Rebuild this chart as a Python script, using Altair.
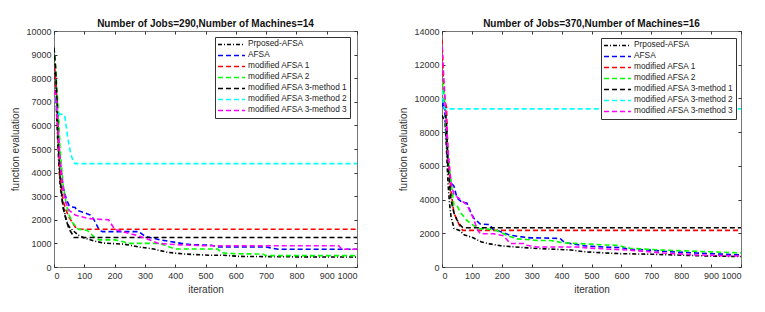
import altair as alt
import pandas as pd

FONT = "Liberation Sans"

SERIES = ["Prposed-AFSA", "AFSA", "modified AFSA 1", "modified AFSA 2",
          "modified AFSA 3-method 1", "modified AFSA 3-method 2", "modified AFSA 3-method 3"]
COLORS = ["#000000", "#0000ff", "#ff0000", "#00ff00", "#000000", "#00ffff", "#ff00ff"]
DASHES = [[4, 2, 1, 2], [5, 3], [5, 3], [5, 3], [5, 3], [5, 3], [5, 3]]

X_TICKS = list(range(0, 1001, 100))
Y_TICKS_LEFT = list(range(0, 10001, 1000))
Y_TICKS_RIGHT = list(range(0, 14001, 2000))

TITLE_LEFT = "Number of Jobs=290,Number of Machines=14"
TITLE_RIGHT = "Number of Jobs=370,Number of Machines=16"

# ---------------- left panel (290 jobs, 14 machines) ----------------
L_PROP_IT = [0, 5, 10, 15, 20, 25, 30, 40, 50, 65, 80, 100, 130, 165, 230, 285, 330, 375, 430, 510, 560, 610, 700, 800, 1000]
L_PROP_VAL = [9000, 7800, 6000, 4600, 3500, 3000, 2600, 2000, 1700, 1520, 1350, 1230, 1110, 1010, 970, 840, 760, 620, 550, 500, 500, 450, 440, 430, 420]

L_AFSA_IT = [0, 5, 10, 15, 20, 30, 40, 50, 55, 70, 75, 100, 120, 130, 150, 160, 280, 300, 350, 420, 450, 520, 540, 700, 740, 1000]
L_AFSA_VAL = [8500, 8000, 7000, 5500, 4500, 3400, 2900, 2600, 2550, 2520, 2400, 2300, 2200, 2050, 1550, 1500, 1500, 1300, 1150, 1000, 950, 920, 850, 850, 750, 750]

L_M1_IT = [0, 5, 10, 15, 20, 30, 40, 50, 60, 70, 80, 1000]
L_M1_VAL = [8500, 8000, 6500, 5000, 4000, 2800, 2400, 2100, 1900, 1700, 1600, 1600]

L_M2_IT = [0, 5, 10, 15, 20, 30, 40, 50, 60, 80, 110, 130, 150, 200, 220, 250, 350, 370, 400, 540, 555, 600, 690, 700, 1000]
L_M2_VAL = [9300, 8500, 7500, 6500, 5000, 3500, 2700, 2200, 1900, 1600, 1550, 1300, 1150, 1150, 1100, 1000, 1000, 900, 760, 760, 600, 560, 550, 480, 480]

L_M31_IT = [0, 5, 10, 15, 20, 30, 40, 50, 60, 66, 1000]
L_M31_VAL = [9300, 8500, 7000, 5000, 3800, 2500, 2000, 1600, 1400, 1250, 1250]

L_M32_IT = [0, 5, 12, 35, 45, 55, 65, 70, 1000]
L_M32_VAL = [7500, 7000, 6500, 6450, 5500, 4800, 4420, 4380, 4380]

L_M33_IT = [0, 5, 10, 15, 20, 30, 40, 50, 70, 115, 180, 200, 240, 270, 310, 345, 400, 500, 940, 950, 1000]
L_M33_VAL = [7500, 7200, 6500, 5500, 4500, 3300, 2700, 2400, 2200, 2050, 2000, 1600, 1450, 1350, 1180, 1000, 950, 900, 900, 750, 750]

# ---------------- right panel (370 jobs, 16 machines) ----------------
R_PROP_IT = [0, 5, 10, 15, 20, 25, 30, 40, 60, 75, 100, 130, 160, 200, 260, 320, 430, 480, 540, 600, 700, 800, 900, 1000]
R_PROP_VAL = [9000, 8800, 8700, 7000, 5000, 3800, 3000, 2300, 2150, 1900, 1770, 1500, 1370, 1250, 1170, 1100, 1010, 900, 840, 790, 760, 700, 650, 620]

R_AFSA_IT = [0, 5, 10, 15, 20, 30, 40, 50, 67, 83, 95, 106, 128, 160, 170, 195, 225, 262, 295, 340, 395, 410, 450, 480, 560, 600, 630, 700, 740, 850, 1000]
R_AFSA_VAL = [9500, 9800, 9000, 7500, 6000, 5000, 4800, 4100, 3830, 3800, 3300, 2900, 2550, 2520, 2250, 2100, 1900, 1800, 1730, 1720, 1690, 1450, 1330, 1250, 1170, 1150, 1050, 1000, 930, 830, 715]

R_M1_IT = [0, 5, 10, 15, 20, 30, 40, 50, 60, 70, 1000]
R_M1_VAL = [13500, 11000, 9800, 9500, 6500, 4500, 3200, 2800, 2400, 2170, 2170]

R_M2_IT = [0, 5, 10, 15, 20, 28, 40, 50, 61, 83, 106, 128, 150, 184, 217, 251, 284, 318, 363, 407, 485, 541, 585, 629, 741, 853, 1000]
R_M2_VAL = [11000, 10500, 9500, 8000, 6500, 5400, 3650, 3650, 3250, 2760, 2460, 2260, 2260, 2160, 1870, 1670, 1630, 1570, 1570, 1430, 1370, 1310, 1290, 1110, 1000, 930, 834]

R_M31_IT = [0, 5, 10, 15, 20, 30, 40, 50, 60, 70, 1000]
R_M31_VAL = [10000, 9800, 9500, 8500, 6000, 4000, 3200, 2800, 2500, 2330, 2330]

R_M32_IT = [0, 5, 10, 1000]
R_M32_VAL = [10500, 9600, 9380, 9380]

R_M33_IT = [0, 5, 10, 15, 20, 30, 40, 83, 105, 117, 128, 173, 206, 228, 273, 284, 317, 451, 495, 629, 741, 853, 1000]
R_M33_VAL = [13100, 11500, 10000, 8500, 7000, 5000, 4300, 3700, 2880, 2280, 1970, 1970, 1850, 1390, 1390, 1290, 1190, 1190, 1120, 1000, 830, 715, 650]


def build_df(pairs):
    rows = []
    for name, (its, vals) in zip(SERIES, pairs):
        for i, (a, b) in enumerate(zip(its, vals)):
            rows.append({"it": a, "val": b, "series": name, "idx": i})
    return pd.DataFrame(rows)


left_df = build_df([(L_PROP_IT, L_PROP_VAL), (L_AFSA_IT, L_AFSA_VAL), (L_M1_IT, L_M1_VAL),
                    (L_M2_IT, L_M2_VAL), (L_M31_IT, L_M31_VAL), (L_M32_IT, L_M32_VAL),
                    (L_M33_IT, L_M33_VAL)])
right_df = build_df([(R_PROP_IT, R_PROP_VAL), (R_AFSA_IT, R_AFSA_VAL), (R_M1_IT, R_M1_VAL),
                     (R_M2_IT, R_M2_VAL), (R_M31_IT, R_M31_VAL), (R_M32_IT, R_M32_VAL),
                     (R_M33_IT, R_M33_VAL)])


def panel(df, title, yticks, lx, ly, w, h):
    legend = alt.Legend(orient="none", legendX=lx, legendY=ly, symbolType="stroke",
                        symbolSize=729, symbolStrokeWidth=1.5, labelFontSize=8.3,
                        labelFont=FONT, labelColor="#222", strokeColor="#333",
                        fillColor="white", padding=2, clipHeight=10.9, labelOffset=2,
                        rowPadding=0, title=None, labelLimit=200)
    xscale = alt.Scale(domain=[0, 1000], nice=False, zero=False)
    yscale = alt.Scale(domain=[yticks[0], yticks[-1]], nice=False)
    lines = alt.Chart(df).mark_line(strokeWidth=1.6, clip=True).encode(
        x=alt.X("it:Q", scale=xscale,
                axis=alt.Axis(values=X_TICKS, title="iteration", orient="bottom", offset=-3,
                              tickSize=3, domain=False, labelPadding=4, titlePadding=4,
                              grid=False, format="d")),
        y=alt.Y("val:Q", scale=yscale,
                axis=alt.Axis(values=yticks, title="function evaluation", offset=-3,
                              tickSize=3, domain=False, labelPadding=3, titlePadding=5,
                              grid=False, format="d")),
        color=alt.Color("series:N", scale=alt.Scale(domain=SERIES, range=COLORS), legend=legend),
        strokeDash=alt.StrokeDash("series:N", scale=alt.Scale(domain=SERIES, range=DASHES), legend=legend),
        order="idx:Q",
    )
    frame_df = pd.DataFrame({"it": [X_TICKS[0], X_TICKS[-1]], "val": [yticks[0], yticks[-1]]})
    frame = alt.Chart(frame_df).mark_point(opacity=0, size=1, clip=True).encode(
        x=alt.X("it:Q", scale=xscale,
                axis=alt.Axis(values=X_TICKS, orient="top", labels=False, title=None,
                              offset=-3, tickSize=3, domain=False, grid=False)),
        y=alt.Y("val:Q", scale=yscale,
                axis=alt.Axis(values=yticks, orient="right", labels=False, title=None,
                              offset=-3, tickSize=3, domain=False, grid=False)),
    )
    return alt.layer(lines, frame).resolve_axis(x="independent", y="independent").properties(
        width=w, height=h, title=alt.Title(title))


left = panel(left_df, TITLE_LEFT, Y_TICKS_LEFT, 161, 6, 303, 236)
right = panel(right_df, TITLE_RIGHT, Y_TICKS_RIGHT, 159, 7, 299, 236)

chart = alt.hconcat(left, right, spacing=40).resolve_scale(
    color="independent", strokeDash="independent"
).resolve_legend(color="independent", strokeDash="independent").properties(
    padding={"left": 2, "top": 10, "right": 0, "bottom": 0}
).configure_view(stroke="#777", strokeWidth=1).configure_axis(
    labelFont=FONT, titleFont=FONT, labelFontSize=9, titleFontSize=10,
    labelColor="#333", titleColor="#333", tickColor="#333", titleFontWeight="normal"
).configure_title(font=FONT, fontSize=10, fontWeight="bold", color="#111", offset=-2, anchor="middle")

chart.save("out.html", embed_options={"renderer": "svg", "actions": False})
